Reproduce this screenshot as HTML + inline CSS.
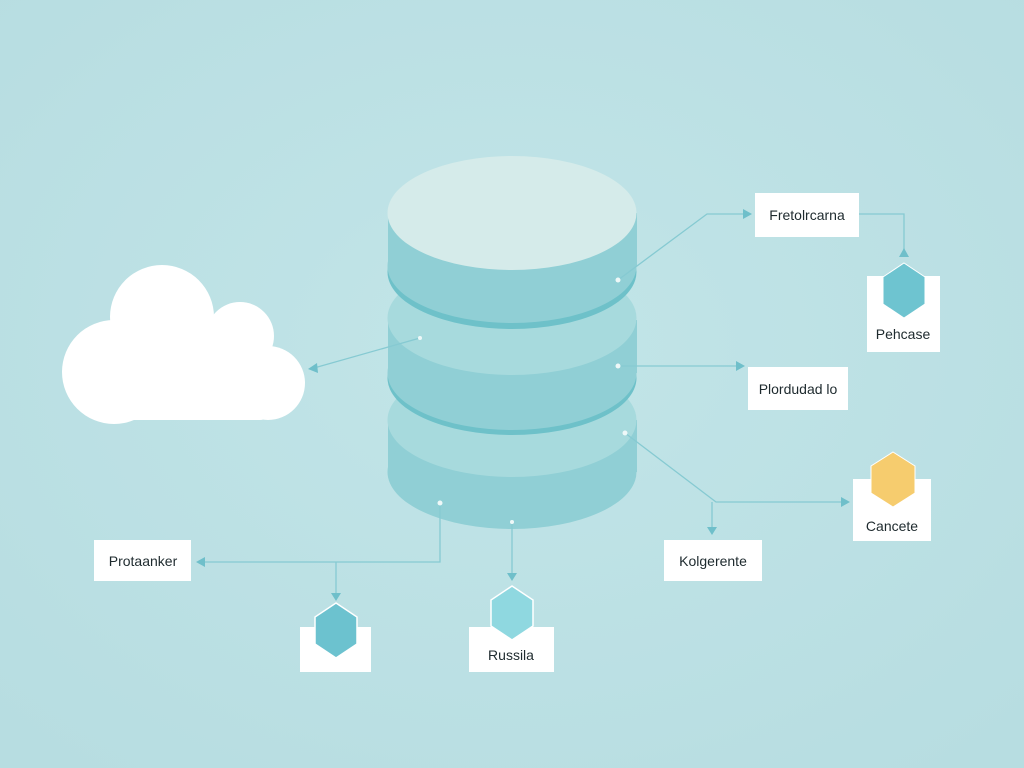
<!DOCTYPE html>
<html><head><meta charset="utf-8"><style>
html,body{margin:0;padding:0;width:1024px;height:768px;overflow:hidden;background:#bde2e5}
svg{display:block}
text{font-family:"Liberation Sans",sans-serif;font-size:14px;fill:#1e2a2e}
</style></head><body>
<svg width="1024" height="768" viewBox="0 0 1024 768" xmlns="http://www.w3.org/2000/svg">
<defs>
<radialGradient id="bg" cx="50%" cy="45%" r="70%"><stop offset="0" stop-color="#c2e5e8"/><stop offset="1" stop-color="#b7dde1"/></radialGradient>
</defs>
<rect width="1024" height="768" fill="url(#bg)"/>

<!-- cloud -->
<g fill="#fff">
<circle cx="162" cy="317" r="52"/>
<circle cx="240" cy="336" r="34"/>
<circle cx="268" cy="383" r="37"/>
<circle cx="114" cy="372" r="52"/>
<rect x="110" y="340" width="160" height="80" rx="10"/>
</g>

<!-- cylinder -->
<g>
<rect x="388" y="420" width="249" height="52" fill="#90cfd5"/>
<ellipse cx="512" cy="472" rx="124.5" ry="57" fill="#90cfd5"/>
<ellipse cx="512" cy="420" rx="124.5" ry="57" fill="#a7dadd"/>
<ellipse cx="512" cy="378" rx="124.5" ry="57" fill="#6ec1c9"/>
<rect x="388" y="320" width="249" height="53" fill="#90cfd5"/>
<ellipse cx="512" cy="373" rx="124.5" ry="57" fill="#90cfd5"/>
<ellipse cx="512" cy="318" rx="124.5" ry="57" fill="#a7dadd"/>
<ellipse cx="512" cy="272" rx="124.5" ry="57" fill="#6ec1c9"/>
<rect x="388" y="213" width="249" height="53" fill="#90cfd5"/>
<ellipse cx="512" cy="266" rx="124.5" ry="57" fill="#90cfd5"/>
<ellipse cx="512" cy="213" rx="124.5" ry="57" fill="#d5ebea"/>
</g>

<!-- connectors -->
<g stroke="#86cad2" stroke-width="1.3" fill="none">
<polyline points="618,280 707,214 745,214"/>
<polyline points="859,214 904,214 904,252"/>
<polyline points="618,366 738,366"/>
<polyline points="625,433 716,502 842,502"/>
<polyline points="712,502 712,530"/>
<polyline points="420,338 314,368"/>
<polyline points="440,503 440,562 204,562"/>
<polyline points="336,562 336,596"/>
<polyline points="512,522 512,576"/>
</g>
<g fill="#6fbfca">
<polygon points="752,214 743,209 743,219"/>
<polygon points="904,248 899,257 909,257"/>
<polygon points="745,366 736,361 736,371"/>
<polygon points="850,502 841,497 841,507"/>
<polygon points="712,535 707,527 717,527"/>
<polygon points="308,369 317,363 318,373"/>
<polygon points="196,562 205,557 205,567"/>
<polygon points="336,601 331,593 341,593"/>
<polygon points="512,581 507,573 517,573"/>
</g>
<g fill="#eef8f8">
<circle cx="618" cy="280" r="2.5"/><circle cx="618" cy="366" r="2.5"/><circle cx="625" cy="433" r="2.5"/>
<circle cx="420" cy="338" r="2"/><circle cx="440" cy="503" r="2.5"/><circle cx="512" cy="522" r="2"/>
</g>

<!-- boxes -->
<g fill="#fff">
<rect x="755" y="193" width="104" height="44"/>
<rect x="867" y="276" width="73" height="76"/>
<rect x="748" y="367" width="100" height="43"/>
<rect x="853" y="479" width="78" height="62"/>
<rect x="664" y="540" width="98" height="41"/>
<rect x="94" y="540" width="97" height="41"/>
<rect x="300" y="627" width="71" height="45"/>
<rect x="469" y="627" width="85" height="45"/>
</g>
<!-- hexagons -->
<polygon points="904,263 925,277 925,304 904,318 883,304 883,277" fill="#6ec4d0" stroke="#fff" stroke-width="1"/>
<polygon points="893,452 915,466 915,493 893,507 871,493 871,466" fill="#f6cc6e" stroke="#fff" stroke-width="1"/>
<polygon points="336,603 357,617 357,644 336,658 315,644 315,617" fill="#6cc2cf" stroke="#fff" stroke-width="1.5"/>
<polygon points="512,586 533,600 533,626 512,640 491,626 491,600" fill="#8fd8e0" stroke="#fff" stroke-width="1.5"/>

<g text-anchor="middle">
<text x="807" y="220">Fretolrcarna</text>
<text x="903" y="339">Pehcase</text>
<text x="798" y="394">Plordudad lo</text>
<text x="892" y="531">Cancete</text>
<text x="713" y="566">Kolgerente</text>
<text x="143" y="566">Protaanker</text>
<text x="511" y="660">Russila</text>
</g>
</svg>
</body></html>
